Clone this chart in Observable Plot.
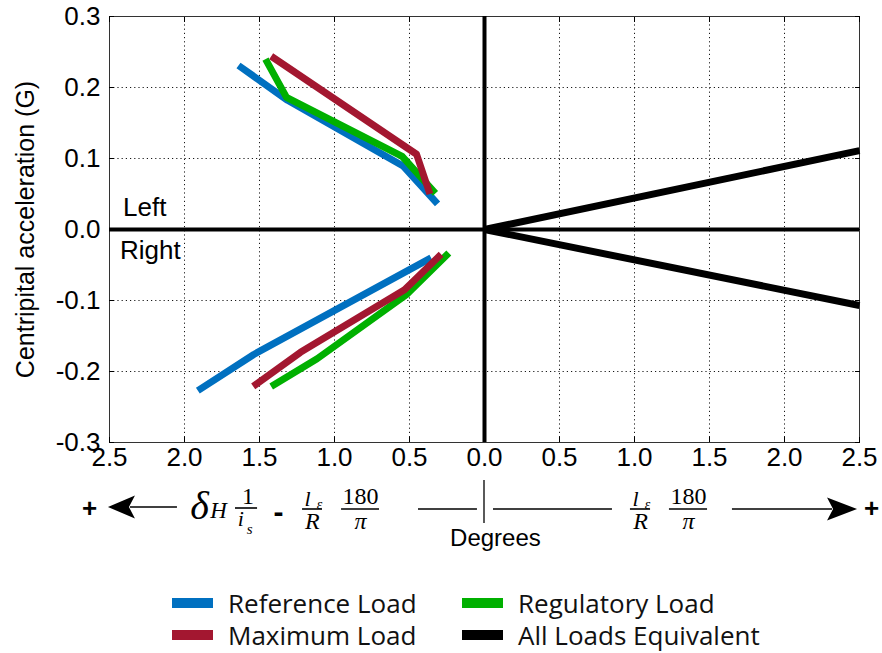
<!DOCTYPE html>
<html><head><meta charset="utf-8">
<script src="https://cdn.jsdelivr.net/npm/d3@7"></script>
<script src="https://cdn.jsdelivr.net/npm/@observablehq/plot@0.6"></script>
<style>
body{margin:0;background:#fff;}
#chart{width:882px;}
.legend{position:relative;width:882px;height:91px;font-family:"Open Sans",sans-serif;font-size:26px;color:#111;}
.item{position:absolute;display:flex;align-items:center;height:32px;white-space:nowrap;}
.sw{width:41px;height:10px;margin-right:15px;}
</style></head><body><div id="chart"></div><script>
// ---- data ----
const xTicks = [-2.5, -2, -1.5, -1, -0.5, 0, 0.5, 1, 1.5, 2, 2.5];
const yTicks = [-0.3, -0.2, -0.1, 0, 0.1, 0.2, 0.3];
const seriesNames = ["Reference Load", "Maximum Load", "Regulatory Load", "All Loads Equivalent"];
const seriesColors = ["#0070C0", "#A31730", "#00B000", "#000000"];

// Reference Load
const refLeftX = [-1.64, -1.313, -0.54, -0.313];
const refLeftY = [0.231, 0.182, 0.089, 0.036];
const refRightX = [-1.911, -1.538, -0.356];
const refRightY = [-0.227, -0.176, -0.040];
// Regulatory Load
const regLeftX = [-1.46, -1.32, -0.549, -0.327];
const regLeftY = [0.240, 0.186, 0.103, 0.051];
const regRightX = [-1.422, -1.116, -0.516, -0.238];
const regRightY = [-0.221, -0.182, -0.091, -0.033];
// Maximum Load
const maxLeftX = [-1.422, -0.453, -0.364];
const maxLeftY = [0.244, 0.106, 0.050];
const maxRightX = [-1.542, -1.227, -0.533, -0.289];
const maxRightY = [-0.221, -0.173, -0.085, -0.035];
// All Loads Equivalent
const allLeftX = [0, 2.5];
const allLeftY = [0, 0.111];
const allRightX = [0, 2.5];
const allRightY = [0, -0.107];

const yLabel = "Centripital acceleration (G)";
const sideLabels = [{t: "Left", x: -2.41, y: 0.0195}, {t: "Right", x: -2.43, y: -0.0415}];

// ---- build table ----
const branches = [
  ["Reference Load", "L", refLeftX, refLeftY], ["Reference Load", "R", refRightX, refRightY],
  ["Regulatory Load", "L", regLeftX, regLeftY], ["Regulatory Load", "R", regRightX, regRightY],
  ["Maximum Load", "L", maxLeftX, maxLeftY], ["Maximum Load", "R", maxRightX, maxRightY],
  ["All Loads Equivalent", "L", allLeftX, allLeftY], ["All Loads Equivalent", "R", allRightX, allRightY]
];
const rows = branches.flatMap(([s, b, xs, ys]) => xs.map((x, i) => ({series: s, key: s + b, x, y: ys[i]})));

// ---- formula annotation (x in data units, dy in px below frame bottom) ----
const serif = "Liberation Serif, Times New Roman, serif";
const sans = "Liberation Sans, Arial, sans-serif";
const pieces = [
  {t: "δ", x: -1.900, dy: 76, size: 40, it: true},
  {t: "H", x: -1.773, dy: 75, size: 23, it: true},
  {t: "1", x: -1.577, dy: 61, size: 24},
  {t: "i", x: -1.625, dy: 83, size: 22, it: true},
  {t: "s", x: -1.565, dy: 91, size: 15, it: true},
  {t: "l", x: -1.18, dy: 63, size: 22, it: true},
  {t: "ε", x: -1.10, dy: 66, size: 14, it: true},
  {t: "R", x: -1.147, dy: 86, size: 24, it: true},
  {t: "180", x: -0.827, dy: 61, size: 24},
  {t: "π", x: -0.827, dy: 86, size: 24, it: true},
  {t: "l", x: 1.007, dy: 63, size: 22, it: true},
  {t: "ε", x: 1.087, dy: 66, size: 14, it: true},
  {t: "R", x: 1.04, dy: 86, size: 24, it: true},
  {t: "180", x: 1.36, dy: 61, size: 24},
  {t: "π", x: 1.36, dy: 86, size: 24, it: true}
];
const formulaRules = [
  {x1: -2.36, x2: -2.047, dy: 65, w: 1.3},
  {x1: -1.66, x2: -1.513, dy: 66, w: 1.6},
  {x1: -1.213, x2: -1.08, dy: 67, w: 1.6},
  {x1: -0.953, x2: -0.70, dy: 67, w: 1.6},
  {x1: -0.44, x2: -0.047, dy: 67, w: 1.3},
  {x1: 0.06, x2: 0.853, dy: 67, w: 1.3},
  {x1: 0.973, x2: 1.107, dy: 67, w: 1.6},
  {x1: 1.233, x2: 1.487, dy: 67, w: 1.6},
  {x1: 1.653, x2: 2.32, dy: 67, w: 1.3}
];
const arrowHeads = [
  {tip: -2.507, back: -2.327, notch: -2.367, dy: 65},
  {tip: 2.487, back: 2.287, notch: 2.327, dy: 67}
];

const formulaMark = (index, scales, values, dims) => {
  const x = scales.x, base = dims.height - dims.marginBottom;
  const g = d3.create("svg:g").attr("stroke", "#000").attr("fill", "none");
  for (const r of formulaRules) {
    g.append("line").attr("x1", x(r.x1)).attr("x2", x(r.x2))
      .attr("y1", base + r.dy).attr("y2", base + r.dy).attr("stroke-width", r.w);
  }
  g.append("line").attr("x1", x(0)).attr("x2", x(0))
    .attr("y1", base + 38).attr("y2", base + 81).attr("stroke-width", 1.3);
  for (const a of arrowHeads) {
    const tip = x(a.tip), back = x(a.back), notch = x(a.notch), y = base + a.dy, h = 11.5;
    g.append("path").attr("d", `M${tip},${y}L${back},${y - h}L${notch},${y}L${back},${y + h}Z`)
      .attr("fill", "#000").attr("stroke", "none");
  }
  return g.node();
};

const plot = Plot.plot({
  width: 882,
  height: 562,
  marginLeft: 109,
  marginRight: 23,
  marginTop: 16,
  marginBottom: 120,
  style: {fontFamily: sans, fontSize: "26px", color: "#000", background: "#fff", overflow: "visible"},
  x: {domain: [-2.5, 2.5]},
  y: {domain: [-0.3, 0.3]},
  color: {domain: seriesNames, range: seriesColors},
  marks: [
    Plot.gridX(xTicks, {stroke: "#000", strokeOpacity: 0.9, strokeDasharray: "1.2,3"}),
    Plot.gridY(yTicks, {stroke: "#000", strokeOpacity: 0.9, strokeDasharray: "1.2,3"}),
    Plot.frame({stroke: "#333", strokeWidth: 1}),
    Plot.axisX({ticks: xTicks, anchor: "bottom", tickSize: -5, tickFormat: () => "", label: null}),
    Plot.axisX({ticks: xTicks, anchor: "top", tickSize: -5, tickFormat: () => "", label: null}),
    Plot.axisY({ticks: yTicks, anchor: "left", tickSize: -5, tickFormat: () => "", label: null}),
    Plot.axisY({ticks: yTicks, anchor: "right", tickSize: -5, tickFormat: () => "", label: null}),
    Plot.axisX({ticks: xTicks, anchor: "bottom", tickSize: 0, tickPadding: 5,
      tickFormat: d => Math.abs(d).toFixed(1), label: null}),
    Plot.axisY({ticks: yTicks, anchor: "left", tickSize: 0, tickPadding: 9,
      tickFormat: d => d.toFixed(1), label: null}),
    Plot.ruleY([0], {stroke: "#000", strokeWidth: 4}),
    Plot.ruleX([0], {stroke: "#000", strokeWidth: 4}),
    Plot.line(rows, {x: "x", y: "y", z: "key", stroke: "series", strokeWidth: 7,
      strokeLinecap: "butt", strokeLinejoin: "round"}),
    Plot.text(sideLabels, {x: "x", y: "y", text: "t", textAnchor: "start", lineAnchor: "bottom", fontSize: 26}),
    Plot.text([yLabel], {text: d => d, frameAnchor: "left", textAnchor: "middle", lineAnchor: "middle",
      rotate: -90, dx: -84, fontSize: 25}),
    ...pieces.map(p => Plot.text([p], {x: "x", text: "t", frameAnchor: "bottom", dy: p.dy,
      lineAnchor: "bottom", fontFamily: serif, fontSize: p.size, fontStyle: p.it ? "italic" : "normal"})),
    Plot.text([-1.373], {x: d => d, text: () => "-", frameAnchor: "bottom", dy: 79, lineAnchor: "bottom",
      fontSize: 30, fontWeight: "bold"}),
    Plot.text([-2.633, 2.58], {x: d => d, text: () => "+", frameAnchor: "bottom", dy: 66, lineAnchor: "middle",
      fontSize: 26, fontWeight: "bold"}),
    Plot.text([0.073], {x: d => d, text: () => "Degrees", frameAnchor: "bottom", dy: 103, lineAnchor: "bottom", fontSize: 24}),
    formulaMark
  ]
});
document.getElementById("chart").appendChild(plot);

// ---- legend ----
const legend = document.createElement("div");
legend.className = "legend";
const legendPos = [[172, 25], [172, 57], [462, 25], [462, 57]];
seriesNames.forEach((name, i) => {
  const item = document.createElement("div");
  item.className = "item";
  item.style.left = legendPos[i][0] + "px";
  item.style.top = legendPos[i][1] + "px";
  const sw = document.createElement("span");
  sw.className = "sw";
  sw.style.background = seriesColors[i];
  const label = document.createElement("span");
  label.textContent = name;
  item.appendChild(sw); item.appendChild(label);
  legend.appendChild(item);
});
document.getElementById("chart").appendChild(legend);
</script></body></html>
